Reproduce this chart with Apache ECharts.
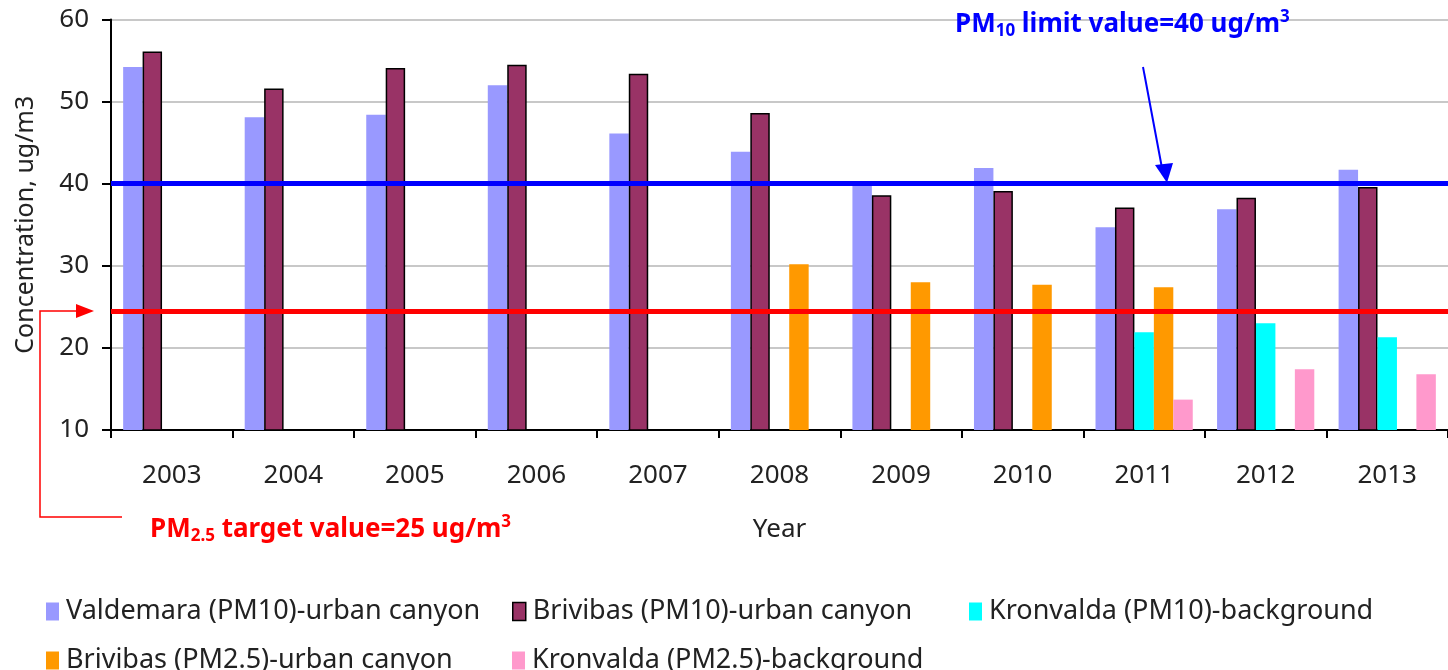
<!DOCTYPE html>
<html>
<head>
<meta charset="utf-8">
<script src="https://cdn.jsdelivr.net/npm/echarts@6/dist/echarts.min.js"></script>
<style>
html,body{margin:0;padding:0;background:#fff;}
#chart{width:1448px;height:670px;}
</style>
</head>
<body>
<div id="chart"></div>
<script>
var years = ['2003','2004','2005','2006','2007','2008','2009','2010','2011','2012','2013'];
var valdemaraPM10 = [54.2, 48.1, 48.4, 52.0, 46.1, 43.9, 40.0, 41.9, 34.7, 36.9, 41.7];
var brivibasPM10 = [56.1, 51.6, 54.1, 54.5, 53.4, 48.6, 38.6, 39.1, 37.1, 38.3, 39.6];
var kronvaldaPM10 = [null, null, null, null, null, null, null, null, 21.9, 23.0, 21.3];
var brivibasPM25 = [null, null, null, null, null, 30.2, 28.0, 27.7, 27.4, null, null];
var kronvaldaPM25 = [null, null, null, null, null, null, null, null, 13.7, 17.4, 16.8];
var yTicks = [10, 20, 30, 40, 50, 60];
var pm10Limit = 40;
var pm25TargetDrawn = 24.5;

var names = ['Valdemara (PM10)-urban canyon','Brivibas (PM10)-urban canyon','Kronvalda (PM10)-background','Brivibas (PM2.5)-urban canyon','Kronvalda (PM2.5)-background'];
var colors = ['#9999FF','#993366','#00FFFF','#FF9900','#FF99CC'];
var dataSets = [valdemaraPM10, brivibasPM10, kronvaldaPM10, brivibasPM25, kronvaldaPM25];

var FONT = 'Noto Sans';
var chart = echarts.init(document.getElementById('chart'));

var series = dataSets.map(function(d, i){
  return {
    name: names[i], type: 'bar', data: d,
    barGap: '0%', barCategoryGap: '20%',
    itemStyle: i === 1 ? {color: colors[i], borderColor: '#000', borderWidth: 1.5} : {color: colors[i]},
    emphasis: {disabled: true}, silent: true
  };
});
series.push({
  type: 'line', data: [], silent: true, z: 10,
  markLine: {
    silent: true, symbol: 'none', animation: false,
    label: {show: false},
    data: [
      {yAxis: pm10Limit, lineStyle: {color: '#0000FF', width: 5, type: 'solid'}},
      {yAxis: pm25TargetDrawn, lineStyle: {color: '#FF0000', width: 5, type: 'solid'}}
    ]
  }
});

// legend positions: [left, top]
var legendPos = [[41, 593], [507, 593], [964, 593], [41, 642], [507, 642]];
var legends = names.map(function(n, i){
  return {
    left: legendPos[i][0], top: legendPos[i][1],
    itemWidth: 13, itemHeight: 18, icon: 'rect', itemGap: 0,
    data: [{name: n, itemStyle: i===1 ? {borderColor:'#000', borderWidth:1.5} : {}}],
    textStyle: {fontFamily: FONT, fontSize: 27, color: '#222', padding: [0,0,0,2]},
    selectedMode: false
  };
});

chart.setOption({
  animation: false,
  textStyle: {fontFamily: FONT},
  grid: {left: 111, right: 0, top: 19.5, bottom: 240, containLabel: false},
  legend: legends,
  xAxis: {
    type: 'category', data: years,
    name: 'Year', nameLocation: 'middle', nameGap: 87,
    nameTextStyle: {fontFamily: FONT, fontSize: 26, color: '#222'},
    axisLine: {lineStyle: {color: '#000', width: 2}},
    axisTick: {show: true, length: 8, lineStyle: {color: '#000', width: 2}},
    axisLabel: {fontFamily: FONT, fontSize: 26, color: '#222', margin: 33}
  },
  yAxis: {
    type: 'value', min: 10, max: 60, interval: 10,
    name: 'Concentration, ug/m3', nameLocation: 'middle', nameGap: 73, nameRotate: 90,
    nameTextStyle: {fontFamily: FONT, fontSize: 25, color: '#222'},
    axisLine: {show: true, lineStyle: {color: '#000', width: 2}},
    axisTick: {show: true, length: 9, lineStyle: {color: '#000', width: 2}},
    axisLabel: {fontFamily: FONT, fontSize: 26, color: '#222', margin: 22,
      formatter: function(v){ return yTicks.indexOf(v) >= 0 ? String(v) : ''; }},
    splitLine: {lineStyle: {color: '#C8C8C8', width: 2}}
  },
  series: series
});

var yBlue = chart.convertToPixel({yAxisIndex: 0}, pm10Limit);
var yRed = chart.convertToPixel({yAxisIndex: 0}, pm25TargetDrawn);

function richText(color){
  return {
    a: {fontFamily: FONT, fontSize: 26, fontWeight: 'bold', fill: color},
    sub: {fontFamily: FONT, fontSize: 17, fontWeight: 'bold', fill: color, padding: [14, 0, 0, 0]},
    sup: {fontFamily: FONT, fontSize: 17, fontWeight: 'bold', fill: color, padding: [0, 0, 14, 0]}
  };
}

chart.setOption({
  graphic: [
    {type: 'polyline', silent: true, shape: {points: [[122, 517], [40, 517], [40, yRed], [78, yRed]]},
      style: {stroke: '#FF0000', lineWidth: 1.5, fill: null}},
    {type: 'polygon', silent: true, shape: {points: [[76, yRed - 7], [94, yRed], [76, yRed + 7]]},
      style: {fill: '#FF0000'}},
    {type: 'line', silent: true, shape: {x1: 1143, y1: 67, x2: 1162, y2: 168},
      style: {stroke: '#0000FF', lineWidth: 2}},
    {type: 'polygon', silent: true, shape: {points: [[1155, 165], [1167, yBlue - 1], [1173, 163]]},
      style: {fill: '#0000FF'}},
    {type: 'text', silent: true, left: 150, top: 514,
      style: {rich: richText('#FF0000'), text: '{a|PM}{sub|2.5}{a| target value=25 ug/m}{sup|3}'}},
    {type: 'text', silent: true, left: 955, top: 9,
      style: {rich: richText('#0000FF'), text: '{a|PM}{sub|10}{a| limit value=40 ug/m}{sup|3}'}}
  ]
});
</script>
</body>
</html>
